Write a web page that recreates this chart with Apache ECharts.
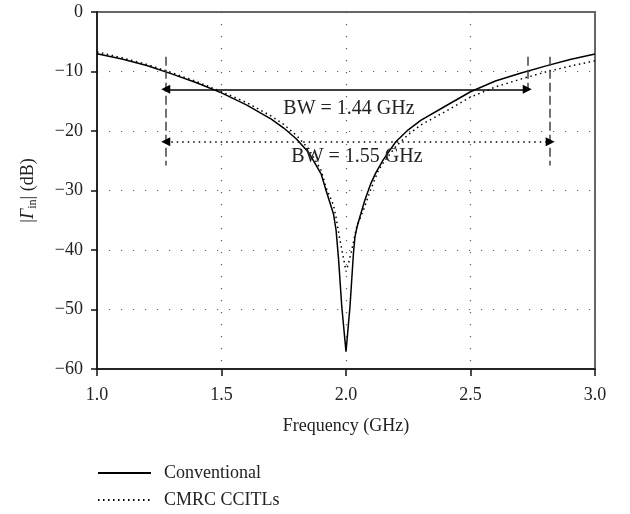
<!DOCTYPE html>
<html>
<head>
<meta charset="utf-8">
<script src="https://cdn.jsdelivr.net/npm/echarts@6/dist/echarts.min.js"></script>
<style>
html,body{margin:0;padding:0;background:#fff;}
#chart{width:630px;height:514px;}
</style>
</head>
<body>
<div id="chart"></div>
<script>
// 反射系数 |Γin| 数据 (GHz, dB)
var convFreq  = [1.0, 1.1, 1.2, 1.3, 1.4, 1.5, 1.6, 1.7, 1.75, 1.8, 1.85, 1.9, 1.92, 1.95, 1.96, 1.97, 1.983, 2.0,
                 2.016, 2.03, 2.036, 2.045, 2.056, 2.076, 2.1, 2.12, 2.15, 2.2, 2.25, 2.3, 2.4, 2.5, 2.6, 2.7, 2.8, 2.9, 3.0];
var convGamma = [-7.0, -7.9, -9.0, -10.4, -11.9, -13.6, -15.6, -18.0, -19.5, -21.3, -23.6, -27.2, -30.0, -34.0, -36.6, -41.5, -49.5, -57.1,
                 -49.5, -40.5, -37.8, -36.0, -34.4, -31.6, -28.8, -27.0, -24.8, -21.8, -19.8, -18.2, -15.8, -13.4, -11.6, -10.3, -9.1, -8.0, -7.05];

var cmrcFreq  = [1.0, 1.1, 1.2, 1.3, 1.4, 1.5, 1.6, 1.7, 1.75, 1.8, 1.85, 1.9, 1.92, 1.95, 1.96, 1.975, 1.99, 2.0,
                 2.01, 2.023, 2.043, 2.07, 2.096, 2.13, 2.15, 2.2, 2.25, 2.3, 2.4, 2.5, 2.6, 2.7, 2.8, 2.9, 3.0];
var cmrcGamma = [-6.7, -7.7, -8.8, -10.2, -11.7, -13.4, -15.2, -17.5, -18.9, -20.7, -23.0, -26.6, -29.5, -32.5, -34.5, -38.2, -41.4, -43.6,
                 -42.3, -40.0, -36.1, -33.3, -30.2, -26.6, -25.3, -22.6, -20.6, -19.0, -16.7, -14.3, -12.6, -11.3, -10.1, -9.1, -8.2];

// 带宽标注
var bwEdges   = [1.276, 2.728, 2.82];      // 左边界, 传统右边界, CMRC右边界
var bwLevels  = [-13.0, -21.8];            // 箭头所在高度
var bwTexts   = ['BW = 1.44 GHz', 'BW = 1.55 GHz'];
var bwTextPos = [[2.012, -16.3], [2.044, -24.3]];
var dashTop   = -7.5;
var dashBottom = [-25.8, -13.1, -25.8];

var seriesNames = ['Conventional', 'CMRC CCITLs'];

function zip(a, b) {
    return a.map(function (v, i) { return [v, b[i]]; });
}
function minus(v) {
    return String(v).replace('-', '\u2212');
}

var serif = '"Liberation Serif", "DejaVu Serif", serif';
var dashStyle = {color: '#444', width: 1.5, type: [9, 4]};

var markLines = [];
for (var i = 0; i < bwEdges.length; i++) {
    markLines.push([
        {coord: [bwEdges[i], dashTop], symbol: 'none', lineStyle: dashStyle},
        {coord: [bwEdges[i], dashBottom[i]], symbol: 'none'}
    ]);
}
markLines.push([
    {coord: [bwEdges[0], bwLevels[0]], symbol: 'triangle', lineStyle: {color: '#000', width: 1.5, type: 'solid'}},
    {coord: [bwEdges[1], bwLevels[0]], symbol: 'triangle'}
]);
markLines.push([
    {coord: [bwEdges[0], bwLevels[1]], symbol: 'triangle', lineStyle: {color: '#000', width: 1.5, type: [1.5, 4]}},
    {coord: [bwEdges[2], bwLevels[1]], symbol: 'triangle'}
]);

var chart = echarts.init(document.getElementById('chart'));
var option = {
    animation: false,
    backgroundColor: '#fff',
    grid: {
        left: 97, right: 35, top: 12, bottom: 145,
        show: true, borderColor: '#666', borderWidth: 2
    },
    legend: {
        orient: 'vertical',
        left: 97, top: 464,
        padding: 0,
        itemWidth: 53, itemHeight: 18, itemGap: 9,
        itemStyle: {opacity: 0},
        textStyle: {fontFamily: serif, fontSize: 18, color: '#222', padding: [0, 0, 0, 8], lineHeight: 18},
        data: seriesNames
    },
    xAxis: {
        type: 'value', min: 1, max: 3, interval: 0.5,
        name: 'Frequency (GHz)', nameLocation: 'middle', nameGap: 48,
        nameTextStyle: {fontFamily: serif, fontSize: 18, color: '#222'},
        axisLine: {onZero: false, lineStyle: {color: '#111', width: 1.5}},
        axisTick: {inside: false, length: 7, lineStyle: {color: '#111', width: 1.5}},
        axisLabel: {fontFamily: serif, fontSize: 18, color: '#222', margin: 17,
            formatter: function (v) { return v.toFixed(1); }},
        splitLine: {show: true, lineStyle: {color: '#666', width: 1.2, type: [1.2, 10.8]}}
    },
    yAxis: {
        type: 'value', min: -60, max: 0, interval: 10,
        name: '|{g|Γ}{s|in}| (dB)', nameLocation: 'middle', nameGap: 58, nameRotate: 90,
        nameTextStyle: {
            fontFamily: serif, fontSize: 18, color: '#222', lineHeight: 22,
            rich: {
                g: {fontFamily: serif, fontSize: 18, fontStyle: 'italic', color: '#222', lineHeight: 22},
                s: {fontFamily: serif, fontSize: 12, color: '#222', lineHeight: 10, verticalAlign: 'bottom'}
            }
        },
        axisLine: {onZero: false, lineStyle: {color: '#111', width: 1.5}},
        axisTick: {inside: false, length: 6, lineStyle: {color: '#111', width: 1.5}},
        axisLabel: {fontFamily: serif, fontSize: 18, color: '#222', margin: 14, formatter: minus},
        splitLine: {show: true, lineStyle: {color: '#666', width: 1.2, type: [1.2, 10.8]}}
    },
    series: [
        {
            name: seriesNames[0],
            type: 'line',
            symbol: 'none',
            data: zip(convFreq, convGamma),
            lineStyle: {color: '#000', width: 1.5, type: 'solid'},
            itemStyle: {color: '#000'},
            z: 3,
            markLine: {
                silent: true,
                symbolSize: [9, 9],
                label: {show: false},
                data: markLines
            },
            markPoint: {
                silent: true,
                symbol: 'circle',
                symbolSize: 0,
                label: {show: true, position: 'inside', fontFamily: serif, fontSize: 20, color: '#222'},
                data: bwTexts.map(function (t, i) {
                    return {coord: bwTextPos[i], label: {formatter: t}};
                })
            }
        },
        {
            name: seriesNames[1],
            type: 'line',
            symbol: 'none',
            data: zip(cmrcFreq, cmrcGamma),
            lineStyle: {color: '#000', width: 1.5, type: [1.5, 3.5]},
            itemStyle: {color: '#000'},
            z: 2
        }
    ]
};
chart.setOption(option);
</script>
</body>
</html>
